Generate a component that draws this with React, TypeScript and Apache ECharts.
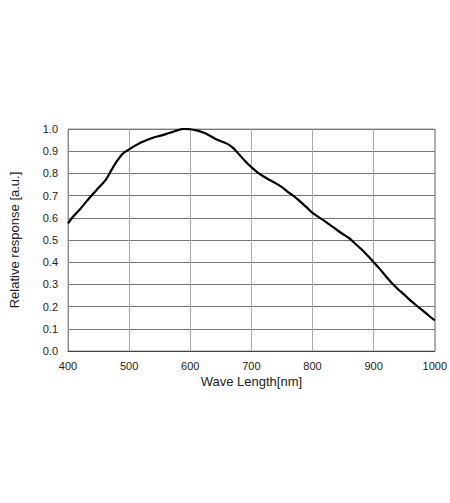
import React, { useEffect, useRef } from "react";
import * as echarts from "echarts";

const wavelengths = [
  400, 410, 420, 430, 440, 450, 460, 465, 470, 480, 490, 500, 510, 520, 530, 540, 550, 560, 570, 580,
  590, 600, 610, 620, 630, 640, 650, 660, 670, 680, 690, 700, 710, 720, 730, 740, 750, 760, 770, 780,
  790, 800, 810, 820, 830, 840, 850, 860, 870, 880, 890, 900, 910, 920, 930, 940, 950, 960, 970, 980,
  990, 1000,
];
const response = [
  0.575, 0.61, 0.64, 0.673, 0.705, 0.735, 0.765, 0.785, 0.81, 0.855, 0.89, 0.908, 0.925, 0.94, 0.952,
  0.962, 0.969, 0.977, 0.986, 0.995, 1.0, 0.999, 0.994, 0.985, 0.973, 0.957, 0.945, 0.934, 0.915,
  0.885, 0.855, 0.828, 0.805, 0.786, 0.77, 0.755, 0.738, 0.716, 0.697, 0.673, 0.648, 0.622, 0.603,
  0.585, 0.565, 0.545, 0.526, 0.508, 0.483, 0.458, 0.43, 0.4, 0.37, 0.337, 0.305, 0.278, 0.254, 0.228,
  0.205, 0.183, 0.16, 0.138,
];

const FONT = "'Liberation Sans', Arial, sans-serif";

export default function App() {
  const ref = useRef<HTMLDivElement>(null);
  useEffect(() => {
    if (!ref.current) return;
    const chart = echarts.init(ref.current, undefined, { renderer: "svg" });
    chart.setOption({
      animation: false,
      backgroundColor: "#ffffff",
      grid: { left: 65, right: 14, top: 129, bottom: 152, show: true, borderColor: "#999", borderWidth: 1 },
      xAxis: {
        type: "value",
        min: 400,
        max: 1000,
        interval: 100,
        name: "Wave Length[nm]",
        nameLocation: "middle",
        nameGap: 24,
        nameTextStyle: { fontFamily: FONT, fontSize: 13, color: "#222" },
        axisLine: { show: true, lineStyle: { color: "#444", width: 1 } },
        axisTick: { show: false },
        axisLabel: { fontFamily: FONT, fontSize: 11, color: "#222", margin: 9, formatter: (v: number) => String(v) },
        splitLine: { show: true, lineStyle: { color: "#aaa", width: 1 } },
      },
      yAxis: {
        type: "value",
        min: 0,
        max: 1,
        interval: 0.1,
        name: "Relative response [a.u.]",
        nameLocation: "middle",
        nameGap: 47,
        nameTextStyle: { fontFamily: FONT, fontSize: 13, color: "#222" },
        axisLine: { show: true, lineStyle: { color: "#888", width: 1 } },
        axisTick: { show: false },
        axisLabel: {
          fontFamily: FONT,
          fontSize: 11,
          color: "#222",
          margin: 10,
          formatter: (v: number) => v.toFixed(1),
        },
        splitLine: { show: true, lineStyle: { color: "#777", width: 1 } },
      },
      series: [
        {
          type: "line",
          data: wavelengths.map((w, i) => [w, response[i]]),
          smooth: 0.3,
          showSymbol: false,
          lineStyle: { color: "#000", width: 2.2 },
        },
      ],
    });
    return () => chart.dispose();
  }, []);
  return <div ref={ref} style={{ width: 450, height: 503, position: "absolute", left: 0, top: 0 }} />;
}
